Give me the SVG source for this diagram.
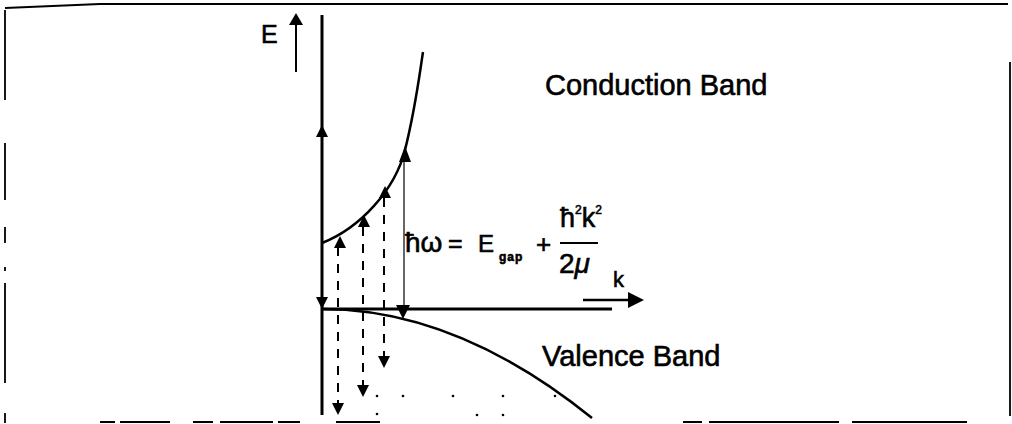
<svg xmlns="http://www.w3.org/2000/svg" width="1012" height="424" viewBox="0 0 1012 424">
<style>
.t{font-family:"Liberation Sans",Arial,sans-serif;fill:#000;stroke:#000;stroke-width:0.6}
.ln{stroke:#000;fill:none;stroke-linecap:butt}
.dash{stroke:#000;stroke-width:2;stroke-dasharray:9 8;fill:none}
.fr{stroke:#000;stroke-width:1.8;fill:none}
</style>
<defs>
<polygon id="up" points="0,0 -6,12 6,12" fill="#000"/>
<polygon id="dn" points="0,0 -6,-12 6,-12" fill="#000"/>
</defs>
<rect width="1012" height="424" fill="#fff"/>
<g id="frame">
<path class="fr" d="M5,8 L100,4 L1008,4"/>
<path class="fr" d="M5,10 V100 M5,143 V200 M5,227 V243 M5,267 V271 M5,283 V383 M5,413 V423"/>
<path class="fr" d="M1010,62 V416"/>
<path class="fr" d="M100,422 H115 M120,422 H170 M193,422 H213 M220,422 H273 M278,422 H300 M336,422 H380 M683,422 H702 M709,422 H839 M852,422 H967"/>
</g>
<g id="connectors">
<line class="ln" x1="296" y1="24" x2="296" y2="72" stroke-width="2"/>
<polygon points="296,13 289,25 303,25" fill="#000"/>
<line class="ln" x1="322" y1="15" x2="322" y2="415" stroke-width="3"/>
<line class="ln" x1="321" y1="309" x2="612" y2="309" stroke-width="3"/>
<line class="ln" x1="583" y1="300" x2="630" y2="300" stroke-width="2.5"/>
<polygon points="644,300 628,292 628,308" fill="#000"/>
<line class="dash" x1="338" y1="247" x2="338" y2="405"/>
<line class="dash" x1="363" y1="227" x2="363" y2="386"/>
<line class="dash" x1="384" y1="198" x2="384" y2="357"/>
<line class="ln" x1="404" y1="160" x2="404" y2="306" stroke-width="1.2"/>
</g>
<g id="bands">
<path class="ln" stroke-width="2.5" d="M322,243 C360,228 395,190 405,150 S418,85 423,52"/>
<path class="ln" stroke-width="2.5" d="M322,309 Q457,309 592,418"/>
</g>
<g id="arrowheads">
<use href="#up" x="322" y="125"/>
<use href="#up" x="340" y="236"/>
<use href="#up" x="364" y="215"/>
<use href="#up" x="385" y="186"/>
<polygon points="405,146 399,162 411,162" fill="#000"/>
<use href="#dn" x="322" y="309"/>
<polygon points="403,319 396,305 410,305" fill="#000"/>
<use href="#dn" x="384" y="368"/>
<use href="#dn" x="363" y="397"/>
<use href="#dn" x="338" y="415"/>
</g>
<g id="dots" fill="#000">
<circle cx="377" cy="396" r="1.3"/>
<circle cx="403" cy="396" r="1.3"/>
<circle cx="453" cy="396" r="1.3"/>
<circle cx="503" cy="396" r="1.3"/>
<circle cx="555" cy="396" r="1.3"/>
<circle cx="377" cy="414" r="1.3"/>
<circle cx="477" cy="415" r="1.3"/>
<circle cx="503" cy="415" r="1.3"/>
</g>
<g id="labels">
<text class="t" x="261" y="43" font-size="25">E</text>
<text class="t" x="613" y="287" font-size="22">k</text>
<text class="t" x="545" y="95" font-size="29">Conduction Band</text>
<text class="t" x="542" y="366" font-size="29">Valence Band</text>
</g>
<g id="formula">
<text class="t" x="405" y="252" font-size="28">ħω</text>
<text class="t" x="448" y="252" font-size="25">=</text>
<text class="t" x="478" y="252" font-size="24">E</text>
<text class="t" x="499" y="261" font-size="12" font-weight="bold" letter-spacing="1">gap</text>
<text class="t" x="536" y="253" font-size="26">+</text>
<text class="t" x="560" y="227" font-size="27">ħ<tspan font-size="12" dy="-13">2</tspan><tspan dy="13">k</tspan><tspan font-size="12" dy="-13">2</tspan></text>
<line class="ln" x1="560" y1="243" x2="598" y2="243" stroke-width="2"/>
<text class="t" x="559" y="273" font-size="28">2<tspan font-style="italic">μ</tspan></text>
</g>
</svg>
